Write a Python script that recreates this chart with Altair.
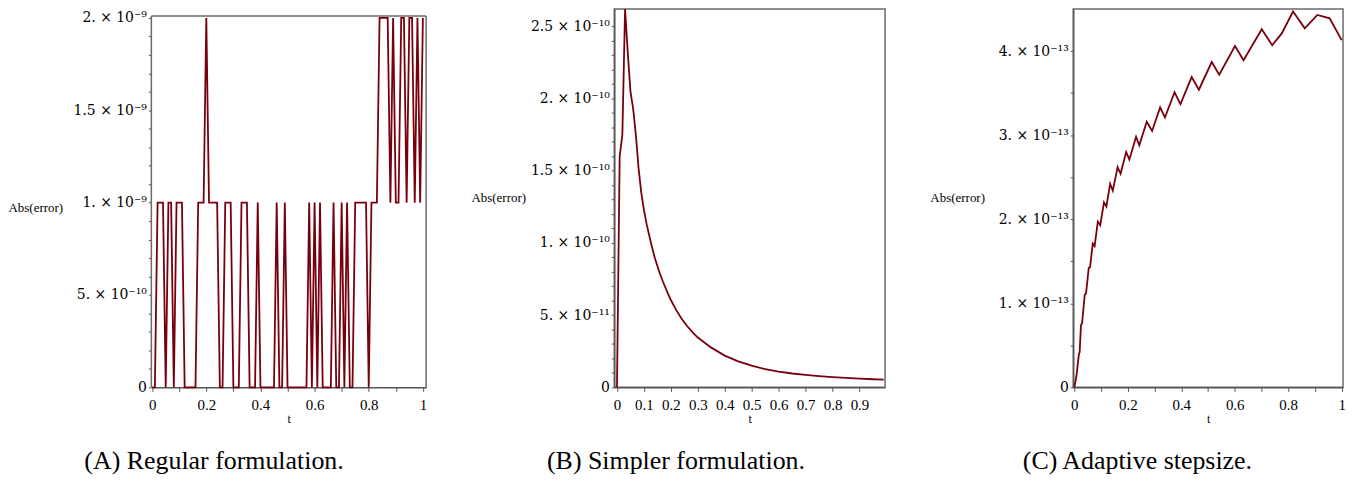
import altair as alt
import pandas as pd

FONT = "Liberation Serif"
LFONT = "DejaVu Serif"
LINE = "#78000E"
AXC = "#555555"
FRAME = "#6a6a6a"

# ---------------- Panel A : Regular formulation (values in 1e-9) ----------------
t_a = [round(i * 0.01, 2) for i in range(101)]
err_a = [0, 0, 1, 1, 1, 0, 1, 1, 0, 1,
         1, 1, 0, 0, 0, 0, 0, 1, 1, 1,
         2, 1, 1, 1, 1, 0, 0, 1, 1, 1,
         0, 0, 0, 1, 1, 1, 0, 0, 0, 1,
         0, 0, 0, 0, 0, 0, 1, 0, 0, 1,
         0, 0, 0, 0, 0, 0, 0, 0, 1, 0,
         1, 0, 1, 0, 0, 0, 0, 1, 0, 0,
         1, 0, 1, 0, 0, 1, 1, 1, 1, 1,
         0, 1, 1, 1, 2, 2, 2, 2, 1, 2,
         1, 1, 2, 2, 1, 2, 2, 1, 2, 1,
         2]
ya_major = [0, 5e-10, 1e-9, 1.5e-9, 2e-9]
ya_labels = ["0", "5. × 10⁻¹⁰", "1. × 10⁻⁹", "1.5 × 10⁻⁹", "2. × 10⁻⁹"]
ya_ticks = [round(i * 1e-10, 20) for i in range(21)]

# ---------------- Panel B : Simpler formulation (values in 1e-11) ----------------
t_b = [0, 0.01, 0.02, 0.03, 0.04, 0.05, 0.06, 0.07, 0.08, 0.09,
       0.10, 0.11, 0.12, 0.13, 0.14, 0.15, 0.16, 0.17, 0.18, 0.19,
       0.20, 0.22, 0.24, 0.26, 0.28, 0.30, 0.35, 0.40, 0.45, 0.50,
       0.55, 0.60, 0.65, 0.70, 0.75, 0.80, 0.85, 0.90, 0.95, 0.99]
err_b = [0, 16.0, 17.5, 26.2, 23.2, 20.5, 19.3, 17.5, 15.2, 13.5,
         12.3, 11.3, 10.5, 9.7, 9.0, 8.4, 7.85, 7.35, 6.9, 6.45,
         6.05, 5.35, 4.75, 4.25, 3.82, 3.45, 2.75, 2.2, 1.8, 1.5,
         1.26, 1.09, 0.96, 0.86, 0.78, 0.71, 0.65, 0.60, 0.56, 0.53]
yb_major = [0, 5e-11, 1e-10, 1.5e-10, 2e-10, 2.5e-10]
yb_labels = ["0", "5. × 10⁻¹¹", "1. × 10⁻¹⁰", "1.5 × 10⁻¹⁰", "2. × 10⁻¹⁰", "2.5 × 10⁻¹⁰"]
yb_ticks = [round(i * 1e-11, 20) for i in range(26)]

# ---------------- Panel C : Adaptive stepsize (values in 1e-13) ----------------
t_c = [0, 0.005, 0.009, 0.012, 0.017, 0.020, 0.025, 0.029, 0.039, 0.044,
       0.054, 0.059, 0.069, 0.076, 0.088, 0.097, 0.111, 0.120, 0.134, 0.144,
       0.162, 0.173, 0.194, 0.206, 0.231, 0.243, 0.271, 0.291, 0.321, 0.339,
       0.375, 0.397, 0.439, 0.466, 0.514, 0.542, 0.601, 0.633, 0.701, 0.740,
       0.776, 0.818, 0.862, 0.909, 0.955, 1.0]
err_c = [0, 0.08, 0.16, 0.25, 0.39, 0.42, 0.74, 0.76, 1.10, 1.12,
         1.42, 1.43, 1.71, 1.68, 1.97, 1.93, 2.20, 2.15, 2.42, 2.34,
         2.62, 2.54, 2.80, 2.71, 2.98, 2.88, 3.16, 3.05, 3.33, 3.21,
         3.51, 3.37, 3.69, 3.54, 3.87, 3.72, 4.06, 3.89, 4.26, 4.07,
         4.21, 4.47, 4.27, 4.43, 4.39, 4.13]
yc_major = [0, 1e-13, 2e-13, 3e-13, 4e-13]
yc_labels = ["0", "1. × 10⁻¹³", "2. × 10⁻¹³", "3. × 10⁻¹³", "4. × 10⁻¹³"]
yc_ticks = [round(i * 5e-14, 20) for i in range(9)]

# x axes
x_ticks = [round(i * 0.1, 1) for i in range(11)]
x_major = [0, 0.2, 0.4, 0.6, 0.8, 1.0]
x_labels = ["0", "0.2", "0.4", "0.6", "0.8", "1"]
xb_ticks = [round(i * 0.1, 1) for i in range(10)]
xb_labels = ["0", "0.1", "0.2", "0.3", "0.4", "0.5", "0.6", "0.7", "0.8", "0.9"]

captions = ["(A) Regular formulation.", "(B) Simpler formulation.", "(C) Adaptive stepsize."]


def lab_expr(vals, labs, tol):
    e = "''"
    for v, l in reversed(list(zip(vals, labs))):
        e = f"abs(datum.value - ({v!r})) < {tol!r} ? '{l}' : ({e})"
    return e


def panel(t, v, unit, xdom, ydom, xt, xmaj, xlab, yt, ymaj, ylab, ytol,
          width, caption, cap_dx, ttl_y, frame=False):
    df = pd.DataFrame({"t": t, "err": [a * unit for a in v]})
    xaxis = alt.Axis(values=xt, labelExpr=lab_expr(xmaj, xlab, 0.01), title="t",
                     titleFont=FONT, titleFontSize=12, titleFontWeight="normal",
                     titleColor="black", titlePadding=1,
                     labelFont=FONT, labelFontSize=15, labelColor="black",
                     labelPadding=6, labelOverlap=False, labelFlush=False,
                     tickSize=4, tickColor=AXC, domainColor=AXC, domainWidth=1.5,
                     grid=False)
    yaxis = alt.Axis(values=yt, labelExpr=lab_expr(ymaj, ylab, ytol), title="Abs(error)",
                     titleAngle=0, titleAlign="left", titleBaseline="middle",
                     titleX=-144, titleY=ttl_y, titleFont=FONT, titleFontSize=13,
                     titleFontWeight="normal", titleColor="black",
                     labelFont=LFONT, labelFontSize=14, labelColor="black",
                     labelPadding=2, labelOverlap=False, labelFlush=False,
                     tickSize=3, tickColor=AXC, domain=not frame, domainColor=AXC,
                     domainWidth=1.5, grid=False)
    xs = alt.Scale(domain=xdom, nice=False, zero=False)
    ys = alt.Scale(domain=ydom, nice=False, zero=False)
    line = alt.Chart(df).mark_line(color=LINE, strokeWidth=1.8).encode(
        x=alt.X("t:Q", scale=xs, axis=xaxis),
        y=alt.Y("err:Q", scale=ys, axis=yaxis),
    )
    layers = [line]
    if frame:
        x0, x1 = xdom
        ytop = frame
        fdf = pd.DataFrame({"x": [x0, x0, x1], "x2": [x1, x0, x1],
                            "y": [ytop, 0, 0], "y2": [ytop, ytop, ytop]})
        rules = alt.Chart(fdf).mark_rule(color=FRAME, strokeWidth=1.5).encode(
            x=alt.X("x:Q", scale=xs, axis=xaxis), x2="x2:Q",
            y=alt.Y("y:Q", scale=ys, axis=yaxis), y2="y2:Q")
        layers = [rules, line]
    ch = alt.layer(*layers).properties(
        width=width, height=380,
        title=alt.TitleParams(caption, orient="bottom", anchor="middle", dx=cap_dx,
                              offset=24, font=FONT, fontSize=26, fontWeight="normal",
                              color="black"))
    if frame:
        ch = ch.properties(view=alt.ViewBackground(strokeOpacity=0))
    return ch


pA = panel(t_a, err_a, 1e-9, [-0.003, 1.012], [0, 2.048e-9], x_ticks, x_major, x_labels,
           ya_ticks, ya_major, ya_labels, 1e-12, 276, captions[0], -75, 199, frame=2.01e-9)
pB = panel(t_b, err_b, 1e-11, [-0.01, 0.995], [0, 2.62e-10], xb_ticks, xb_ticks, xb_labels,
           yb_ticks, yb_major, yb_labels, 1e-13, 272, captions[1], -74, 189)
pC = panel(t_c, err_c, 1e-13, [-0.004, 1.005], [0, 4.5e-13], x_ticks, x_major, x_labels,
           yc_ticks, yc_major, yc_labels, 1e-16, 271, captions[2], -71, 189)

chart = alt.hconcat(pA, pB, pC, spacing=189, bounds="flush").properties(
    padding={"left": 0, "top": -5, "right": 0, "bottom": 0}
).configure(background="white").configure_view(stroke=FRAME, strokeWidth=1.5)

chart.save("out.html", embed_options={"renderer": "svg", "actions": False})
